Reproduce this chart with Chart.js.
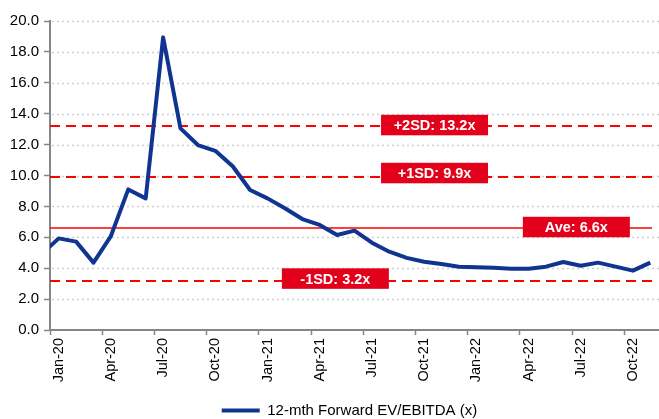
<!DOCTYPE html>
<html>
<head>
<meta charset="utf-8">
<script src="https://cdn.jsdelivr.net/npm/chart.js@4/dist/chart.umd.min.js"></script>
<style>
  html, body { margin: 0; padding: 0; background: #fff; }
  #wrap { width: 659px; height: 419px; position: relative; }
</style>
</head>
<body>
<div id="wrap"><canvas id="evChart"></canvas></div>
<script>
// months shown on the axis (Jan-20 .. Nov-22)
const months = ['Jan-20','Feb-20','Mar-20','Apr-20','May-20','Jun-20','Jul-20','Aug-20','Sep-20','Oct-20','Nov-20','Dec-20',
                'Jan-21','Feb-21','Mar-21','Apr-21','May-21','Jun-21','Jul-21','Aug-21','Sep-21','Oct-21','Nov-21','Dec-21',
                'Jan-22','Feb-22','Mar-22','Apr-22','May-22','Jun-22','Jul-22','Aug-22','Sep-22','Oct-22','Nov-22']
// 12-mth forward EV/EBITDA (x)
const evEbitda = [5.93, 5.72, 4.36, 6.08, 9.10, 8.52, 18.94, 13.05, 11.97, 11.60, 10.60, 9.06,
                  8.52, 7.88, 7.18, 6.80, 6.15, 6.43, 5.65, 5.07, 4.67, 4.42, 4.27, 4.10,
                  4.06, 4.03, 3.97, 3.97, 4.10, 4.40, 4.16, 4.36, 4.10, 3.84, 4.36]
// Dec-19 value, only the tail of its segment is visible at the left edge
const priorMonth = 4.9

const bandValues = [13.2, 9.9, 6.6, 3.2]
const bandLabels = ['+2SD: 13.2x', '+1SD: 9.9x', 'Ave: 6.6x', '-1SD: 3.2x']
const yTicks = [0, 2, 4, 6, 8, 10, 12, 14, 16, 18, 20]

const navy = '#0F3590'
const red = '#FF0000'
const boxRed = '#E2001A'
const axisGrey = '#868686'
const font = "'Liberation Sans', Arial, sans-serif"

// where the label boxes sit (month index along x, pixel nudge in y)
const boxSpots = [
    { at: 21.6, dy: -1 },
    { at: 21.6, dy: -4 },
    { at: 29.75, dy: -1 },
    { at: 15.9, dy: -2 }
]
const bandDashed = [true, true, false, true]

const bandPlugin = {
    id: 'bands',
    afterLayout(chart) {
        // nudge the legend to where the original sits
        const lg = chart.legend
        lg.left += 20; lg.right += 20
        lg.top += 9; lg.bottom += 9
    },
    beforeDatasetsDraw(chart) {
        const { ctx, chartArea } = chart
        const y = chart.scales.y
        const xd = chart.scales.xd
        ctx.save()
        // dotted gridlines
        ctx.strokeStyle = '#cfcfcf'
        ctx.lineWidth = 1.5
        ctx.setLineDash([2, 3])
        yTicks.forEach(v => {
            if (v === 0) return
            const py = Math.round(y.getPixelForValue(v)) + 0.5
            ctx.beginPath()
            ctx.moveTo(chartArea.left + 2, py)
            ctx.lineTo(chartArea.right, py)
            ctx.stroke()
        })
        // SD / average lines
        const right = xd.getPixelForValue(34.1)
        bandValues.forEach((v, i) => {
            const py = Math.round(y.getPixelForValue(v))
            ctx.beginPath()
            ctx.strokeStyle = red
            ctx.lineWidth = bandDashed[i] ? 2 : 1.6
            ctx.setLineDash(bandDashed[i] ? [10, 6] : [])
            ctx.moveTo(chartArea.left, py)
            ctx.lineTo(right, py)
            ctx.stroke()
        })
        ctx.setLineDash([])
        ctx.font = 'bold 14.5px ' + font
        ctx.textAlign = 'center'
        ctx.textBaseline = 'middle'
        bandValues.forEach((v, i) => {
            const cx = xd.getPixelForValue(boxSpots[i].at)
            const cy = y.getPixelForValue(v) + boxSpots[i].dy
            const w = 107, h = 20.5
            ctx.fillStyle = boxRed
            ctx.fillRect(cx - w / 2, cy - h / 2, w, h)
            ctx.fillStyle = '#fff'
            ctx.fillText(bandLabels[i], cx, cy + 1)
        })
        ctx.restore()
    }
}

const points = [{ x: -1, y: priorMonth }].concat(evEbitda.map((v, i) => ({ x: i, y: v })))

const ctx = document.getElementById('evChart').getContext('2d')
const myChart = new Chart(ctx, {
    type: 'line',
    data: {
        labels: months,
        datasets: [{
            label: '12-mth Forward EV/EBITDA (x)',
            data: points,
            xAxisID: 'xd',
            yAxisID: 'y',
            borderColor: navy,
            backgroundColor: navy,
            borderWidth: 4,
            pointRadius: 0,
            tension: 0,
            borderJoinStyle: 'round',
            borderCapStyle: 'butt',
            clip: { left: 0, right: 0, top: false, bottom: 0 }
        }]
    },
    options: {
        responsive: true,
        maintainAspectRatio: false,
        animation: false,
        devicePixelRatio: 1,
        layout: { padding: { top: 21, left: 0, right: 0, bottom: 0 } },
        plugins: {
            legend: {
                position: 'bottom',
                labels: {
                    color: '#000',
                    font: { family: font, size: 15 },
                    boxWidth: 38,
                    boxHeight: 4,
                    padding: 8,
                    generateLabels: (chart) => Chart.defaults.plugins.legend.labels.generateLabels(chart)
                        .map(l => Object.assign(l, { lineWidth: 0, fillStyle: navy }))
                }
            },
            tooltip: { enabled: false }
        },
        scales: {
            xd: {
                type: 'linear',
                display: false,
                min: -0.5,
                max: months.length - 0.5
            },
            x: {
                type: 'category',
                position: 'bottom',
                offset: true,
                afterFit: (scale) => {
                    scale.height = 56
                    scale.paddingLeft = 0
                    scale.paddingRight = 0
                },
                grid: {
                    offset: true,
                    drawOnChartArea: false,
                    drawTicks: true,
                    tickLength: 5,
                    tickWidth: 1.5,
                    tickColor: (c) => c.index % 3 === 0 ? axisGrey : 'rgba(0,0,0,0)'
                },
                border: { color: axisGrey, width: 2 },
                ticks: {
                    autoSkip: false,
                    maxRotation: 90,
                    minRotation: 90,
                    padding: 3,
                    color: '#000',
                    font: { family: font, size: 14.5 },
                    callback: (v, i) => i % 3 === 0 ? months[i] : ''
                }
            },
            y: {
                min: 0,
                max: 20,
                afterFit: (scale) => { scale.width = 50 },
                afterBuildTicks: (scale) => { scale.ticks = yTicks.map(v => ({ value: v })) },
                grid: {
                    drawOnChartArea: false,
                    tickLength: 6,
                    tickColor: axisGrey,
                    tickWidth: 1.5
                },
                border: { color: axisGrey, width: 2 },
                ticks: {
                    padding: 5,
                    color: '#000',
                    font: { family: font, size: 15 },
                    callback: (v) => v.toFixed(1)
                }
            }
        }
    },
    plugins: [bandPlugin]
})
</script>
</body>
</html>
